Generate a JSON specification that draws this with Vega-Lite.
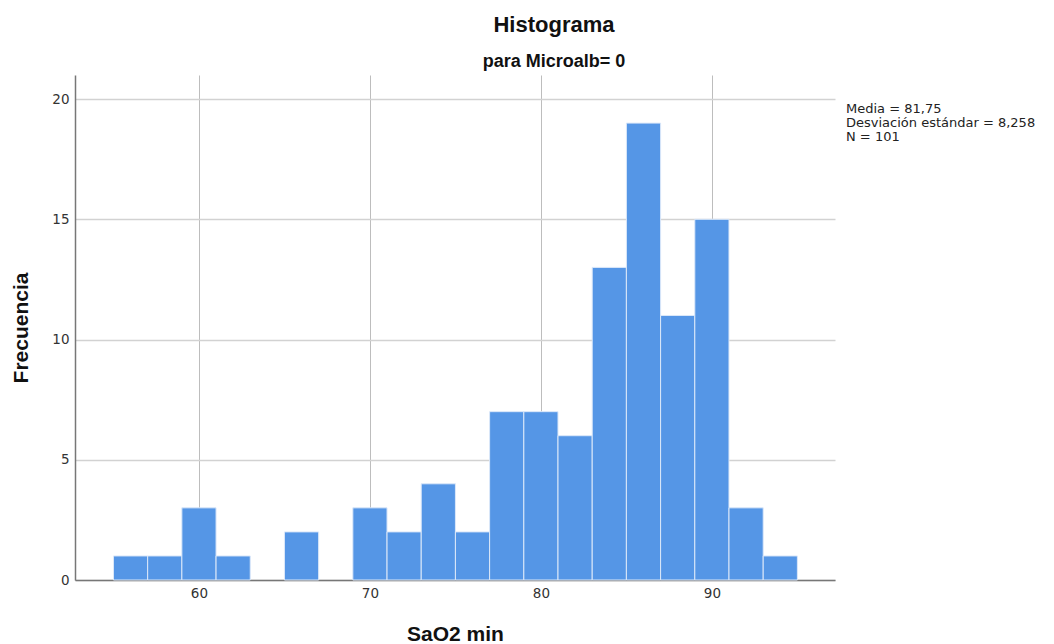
{
  "$schema": "https://vega.github.io/schema/vega-lite/v6.json",
  "width": 760,
  "height": 505,
  "autosize": {"type": "none"},
  "padding": {"left": 75, "top": 75, "right": 219, "bottom": 64},
  "background": "white",
  "config": {
    "view": {"stroke": null},
    "font": "DejaVu Sans"
  },
  "title": {
    "text": "Histograma",
    "subtitle": "para Microalb= 0",
    "anchor": "middle",
    "frame": "group",
    "dx": 99,
    "font": "Liberation Sans",
    "fontSize": 22,
    "fontWeight": "bold",
    "color": "#111111",
    "subtitleFont": "Liberation Sans",
    "subtitleFontSize": 18,
    "subtitleFontWeight": "bold",
    "subtitleColor": "#111111",
    "subtitlePadding": 16,
    "offset": 3
  },
  "layer": [
    {
      "data": {
        "values": [
          {"bin_start": 55, "bin_end": 57, "count": 1},
          {"bin_start": 57, "bin_end": 59, "count": 1},
          {"bin_start": 59, "bin_end": 61, "count": 3},
          {"bin_start": 61, "bin_end": 63, "count": 1},
          {"bin_start": 65, "bin_end": 67, "count": 2},
          {"bin_start": 69, "bin_end": 71, "count": 3},
          {"bin_start": 71, "bin_end": 73, "count": 2},
          {"bin_start": 73, "bin_end": 75, "count": 4},
          {"bin_start": 75, "bin_end": 77, "count": 2},
          {"bin_start": 77, "bin_end": 79, "count": 7},
          {"bin_start": 79, "bin_end": 81, "count": 7},
          {"bin_start": 81, "bin_end": 83, "count": 6},
          {"bin_start": 83, "bin_end": 85, "count": 13},
          {"bin_start": 85, "bin_end": 87, "count": 19},
          {"bin_start": 87, "bin_end": 89, "count": 11},
          {"bin_start": 89, "bin_end": 91, "count": 15},
          {"bin_start": 91, "bin_end": 93, "count": 3},
          {"bin_start": 93, "bin_end": 95, "count": 1}
        ]
      },
      "mark": {"type": "bar", "orient": "vertical", "fill": "#5596e6", "stroke": "#dce8f9", "strokeWidth": 1},
      "encoding": {
        "x": {
          "field": "bin_start",
          "type": "quantitative",
          "scale": {"domain": [52.75, 97.2], "nice": false, "zero": false, "padding": 0},
          "axis": {
            "title": "SaO2 min",
            "values": [60, 70, 80, 90],
            "ticks": false,
            "labelPadding": 6,
            "labelFontSize": 13.5,
            "labelColor": "#333333",
            "domainColor": "#777777",
            "domainWidth": 1.5,
            "grid": true,
            "gridColor": "#bdbdbd",
            "gridWidth": 1,
            "titleFont": "Liberation Sans",
            "titleFontSize": 21,
            "titleFontWeight": "bold",
            "titleColor": "#111111",
            "titleBaseline": "alphabetic",
            "titleY": 60
          }
        },
        "x2": {"field": "bin_end"},
        "y": {
          "field": "count",
          "type": "quantitative",
          "scale": {"domain": [0, 21], "nice": false, "padding": 0},
          "axis": {
            "title": "Frecuencia",
            "values": [0, 5, 10, 15, 20],
            "ticks": false,
            "labelPadding": 6,
            "labelFontSize": 13.5,
            "labelColor": "#333333",
            "domainColor": "#777777",
            "domainWidth": 1.5,
            "grid": true,
            "gridColor": "#d2d2d2",
            "gridWidth": 1.5,
            "titleFont": "Liberation Sans",
            "titleFontSize": 21,
            "titleFontWeight": "bold",
            "titleColor": "#111111",
            "titleBaseline": "alphabetic",
            "titleX": -48
          }
        },
        "y2": {"datum": 0}
      }
    },
    {
      "data": {
        "values": [
          {"stat": "Media = 81,75"},
          {"stat": "Desviación estándar = 8,258"},
          {"stat": "N = 101"}
        ]
      },
      "mark": {"type": "point", "opacity": 0},
      "encoding": {
        "color": {
          "field": "stat",
          "type": "nominal",
          "scale": {"domain": ["Media = 81,75", "Desviación estándar = 8,258", "N = 101"], "range": ["#000000", "#000000", "#000000"]},
          "legend": {
            "title": null,
            "orient": "none",
            "legendX": 758,
            "legendY": 27,
            "symbolSize": 0,
            "symbolOpacity": 0,
            "symbolStrokeWidth": 0,
            "labelOffset": 0,
            "labelFont": "DejaVu Sans",
            "labelFontSize": 13,
            "labelColor": "#222222",
            "labelLimit": 400,
            "rowPadding": 0,
            "padding": 0
          }
        }
      }
    }
  ]
}
